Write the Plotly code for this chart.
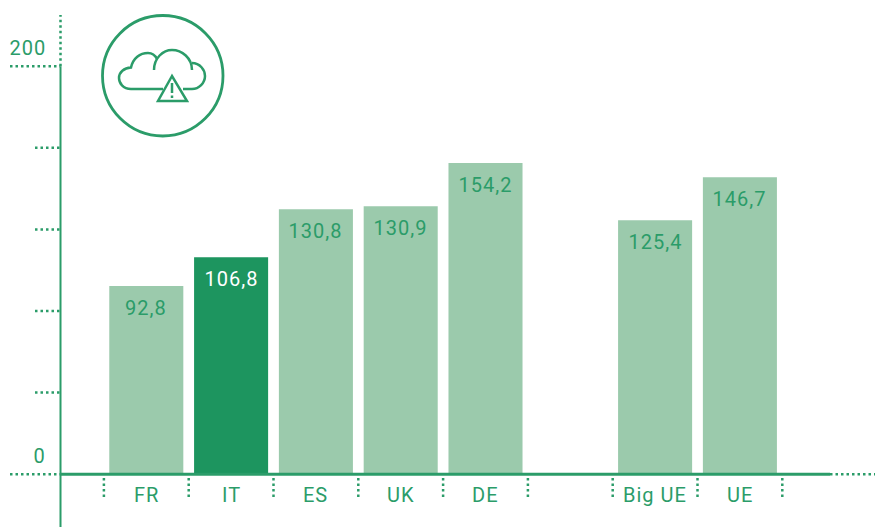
import plotly.graph_objects as go

W, H = 875, 527
categories = ["FR", "IT", "ES", "UK", "DE", "Big UE", "UE"]
positions = [0, 1, 2, 3, 4, 6, 7]
bar_heights = [92.2, 106.4, 129.9, 131.4, 152.5, 124.5, 145.6]
value_labels = ["92,8", "106,8", "130,8", "130,9", "154,2", "125,4", "146,7"]
highlight = "IT"
y_ticks = [0, 40, 80, 120, 160, 200]
y_tick_labels = {0: "0", 200: "200"}
x_separators = [-0.5, 0.5, 1.5, 2.5, 3.5, 4.5, 5.5, 6.5, 7.5]

LIGHT = "#9bcaac"
DARK = "#1d955f"
TEXT = "#2b9c69"
FONT = "Roboto"

# axis scales: pixels per unit
X0, XS = 146.3, 84.8
Y0, YS = 474.2, 2.04
x_range = [(0 - X0) / XS, (W - X0) / XS]
y_range = [(Y0 - H) / YS, Y0 / YS]

px = lambda x: x / W
py = lambda y: 1 - y / H

fig = go.Figure()
fig.add_bar(
    x=positions, y=bar_heights, width=0.873,
    marker=dict(color=[DARK if c == highlight else LIGHT for c in categories], line=dict(width=0)),
    hoverinfo="skip",
)

shapes = []
def seg(x0, y0, x1, y1, dash="solid", width=2):
    shapes.append(dict(type="line", xref="paper", yref="paper",
                       x0=px(x0), y0=py(y0), x1=px(x1), y1=py(y1),
                       line=dict(color=TEXT, width=width, dash=dash)))

DOTS = "2.5px,3px"
y_top_px = Y0 - 200 * YS
seg(60.5, y_top_px, 60.5, 527)
seg(60.5, y_top_px, 60.5, 15, DOTS, 2.5)
seg(60, Y0, 830, Y0, width=3)
seg(830, Y0, 875, Y0, DOTS, 2.5)

for t in y_ticks:
    left = 10 if t in y_tick_labels else 35
    shapes.append(dict(type="line", xref="paper", yref="y",
                       x0=px(left), x1=px(60), y0=t, y1=t,
                       line=dict(color=TEXT, width=2.5, dash=DOTS)))
for s in x_separators:
    shapes.append(dict(type="line", xref="x", yref="paper",
                       x0=s, x1=s, y0=py(478), y1=py(499),
                       line=dict(color=TEXT, width=2.5, dash=DOTS)))

# icon
shapes.append(dict(type="circle", xref="paper", yref="paper",
                   x0=px(102.5), x1=px(223), y0=py(15.5), y1=py(136),
                   line=dict(color=TEXT, width=2.8)))

def path(cmds):
    out = []
    for c in cmds:
        out.append(c[0] + " ".join(f"{px(c[i])},{py(c[i+1])}" for i in range(1, len(c), 2)))
    return " ".join(out)

icon_paths = [
    [("M", 163, 89), ("L", 131, 89), ("C", 123, 89, 119, 83, 119, 78),
     ("C", 119, 72, 124, 68, 131, 67.5), ("C", 133, 58, 140, 53, 148, 53), ("C", 152, 53, 155, 55, 157, 59)],
    [("M", 154, 70), ("C", 154, 58, 163, 50, 172, 50), ("C", 182, 50, 192, 58, 192, 70)],
    [("M", 192, 63), ("C", 200, 63, 205, 70, 205, 76), ("C", 205, 83, 199, 89, 192, 89), ("L", 183, 89)],
    [("M", 172, 76), ("L", 158, 101), ("L", 187, 101), ("Z",)],
    [("M", 172, 83), ("L", 172, 93)],
    [("M", 172, 95.5), ("L", 172, 98)],
]
for p in icon_paths:
    shapes.append(dict(type="path", xref="paper", yref="paper", path=path(p),
                       line=dict(color=TEXT, width=2.5)))

annotations = []
for c, x, h, lab in zip(categories, positions, bar_heights, value_labels):
    annotations.append(dict(x=x, y=h, xref="x", yref="y", text=lab, showarrow=False,
                            xanchor="center", yanchor="middle", yshift=-22,
                            font=dict(family=FONT, size=20, color="#ffffff" if c == highlight else TEXT)))
    annotations.append(dict(x=x, y=0, xref="x", yref="y", text=c, showarrow=False,
                            xanchor="center", yanchor="middle", yshift=-21,
                            font=dict(family=FONT, size=20, color=TEXT)))
for t, lab in y_tick_labels.items():
    annotations.append(dict(x=px(47), y=t, xref="paper", yref="y", text=lab, showarrow=False,
                            xanchor="right", yanchor="middle", yshift=18,
                            font=dict(family=FONT, size=20, color=TEXT)))

fig.update_layout(
    width=W, height=H, margin=dict(l=0, r=0, t=0, b=0),
    paper_bgcolor="#ffffff", plot_bgcolor="#ffffff",
    showlegend=False, shapes=shapes, annotations=annotations,
    xaxis=dict(range=x_range, visible=False, fixedrange=True),
    yaxis=dict(range=y_range, visible=False, fixedrange=True),
)
post = ("document.body.style.margin='0';document.body.style.overflow='hidden';"
        "var s=document.createElement('style');"
        "s.textContent='.annotation-text{letter-spacing:1px}';"
        "document.head.appendChild(s);")
fig.write_html("out.html", config=dict(displayModeBar=False), post_script=post)
